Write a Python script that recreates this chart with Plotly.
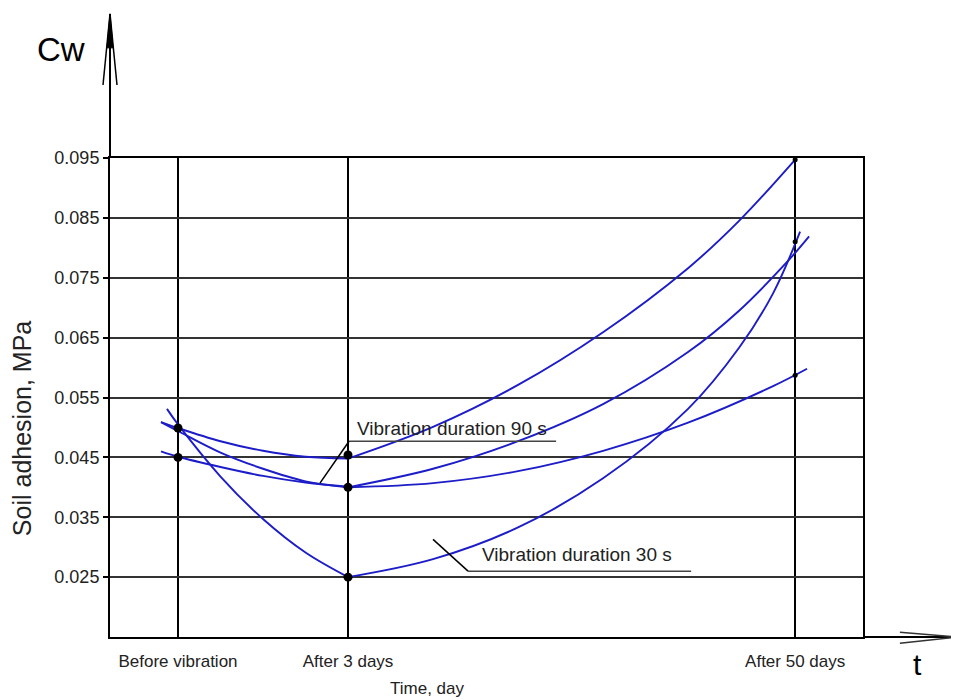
import plotly.graph_objects as go

# ---- data ----
categories = ["Before vibration", "After 3 days", "After 50 days"]
cat_pos = [0.0, 1.0, 3.63]          # position of each time point on the (non-linear) time axis

y_ticks = [0.025, 0.035, 0.045, 0.055, 0.065, 0.075, 0.085, 0.095]

# curve segments: before vibration -> after 3 days
seg1_left_x = [-0.10, 0.0, 0.25, 0.50, 0.75, 1.0]
seg1_left_y = [0.0509, 0.0499, 0.0477, 0.0461, 0.0451, 0.0448]
seg2_left_x = [-0.10, 0.0, 0.25, 0.50, 0.75, 1.0]
seg2_left_y = [0.0509, 0.0494, 0.0458, 0.0431, 0.0410, 0.0400]
seg3_left_x = [-0.10, 0.0, 0.25, 0.50, 0.75, 1.0]
seg3_left_y = [0.0460, 0.0451, 0.0434, 0.0419, 0.0408, 0.0401]
seg4_left_x = [-0.065, 0.0, 0.25, 0.50, 0.75, 1.0]
seg4_left_y = [0.0531, 0.0505, 0.0418, 0.0347, 0.0291, 0.0250]

# curve segments: after 3 days -> after 50 days
seg1_right_x = [1.0, 1.5, 2.0, 2.5, 3.0, 3.3, 3.629]
seg1_right_y = [0.0448, 0.0501, 0.0571, 0.0659, 0.0766, 0.0845, 0.0947]
seg2_right_x = [1.0, 1.5, 2.0, 2.5, 3.0, 3.3, 3.6, 3.712]
seg2_right_y = [0.0400, 0.0431, 0.0477, 0.0539, 0.0626, 0.0695, 0.0782, 0.0819]
seg3_right_x = [1.0, 1.5, 2.0, 2.5, 3.0, 3.5, 3.70]
seg3_right_y = [0.0400, 0.0407, 0.0427, 0.0461, 0.0508, 0.0569, 0.0598]
seg4_right_x = [1.0, 1.5, 2.0, 2.5, 3.0, 3.3, 3.5, 3.659]
seg4_right_y = [0.0250, 0.0280, 0.0333, 0.0415, 0.0531, 0.0633, 0.0724, 0.0827]

# measured points
dots_x = [0.0, 0.0, 1.0, 1.0, 1.0]
dots_y = [0.0499, 0.0450, 0.0454, 0.0400, 0.0250]
end_dots_x = [3.63, 3.63, 3.63]
end_dots_y = [0.0947, 0.0810, 0.0587]

label_90 = "Vibration duration 90 s"
label_30 = "Vibration duration 30 s"

# ---- figure ----
BLUE = "#1c1cc8"
FONT = "Liberation Sans, Arial, sans-serif"

fig = go.Figure()
segments = [
    (seg1_left_x, seg1_left_y), (seg2_left_x, seg2_left_y),
    (seg3_left_x, seg3_left_y), (seg4_left_x, seg4_left_y),
    (seg1_right_x, seg1_right_y), (seg2_right_x, seg2_right_y),
    (seg3_right_x, seg3_right_y), (seg4_right_x, seg4_right_y),
]
for sx, sy in segments:
    fig.add_trace(go.Scatter(x=sx, y=sy, mode="lines",
                             line=dict(color=BLUE, width=1.9, shape="spline", smoothing=1.0),
                             hoverinfo="skip"))

fig.add_trace(go.Scatter(x=dots_x, y=dots_y, mode="markers",
                         marker=dict(color="black", size=9)))
fig.add_trace(go.Scatter(x=end_dots_x, y=end_dots_y, mode="markers",
                         marker=dict(color="black", size=5)))

shapes = []
# extended bottom axis with arrow
shapes.append(dict(type="line", xref="paper", yref="paper", x0=1, x1=1.1262, y0=0, y1=0,
                   line=dict(color="black", width=2)))
shapes.append(dict(type="line", xref="paper", yref="paper", x0=1.049, x1=1.1262, y0=0.0098, y1=0,
                   line=dict(color="#333", width=1.5)))
shapes.append(dict(type="line", xref="paper", yref="paper", x0=1.049, x1=1.1262, y0=-0.0132, y1=0,
                   line=dict(color="#333", width=1.5)))
# extended left axis with arrow
shapes.append(dict(type="line", xref="paper", yref="paper", x0=0, x1=0, y0=1, y1=1.3008,
                   line=dict(color="black", width=2)))
shapes.append(dict(type="line", xref="paper", yref="paper", x0=-0.0093, x1=0, y0=1.1525, y1=1.3008,
                   line=dict(color="black", width=1.5)))
shapes.append(dict(type="line", xref="paper", yref="paper", x0=0.0093, x1=0, y0=1.1525, y1=1.3008,
                   line=dict(color="black", width=1.5)))
shapes.append(dict(type="path", xref="paper", yref="paper",
                   path="M -0.004,1.23 L 0,1.3008 L 0.004,1.23 Z",
                   fillcolor="black", line=dict(color="black", width=1)))
# leader lines of labels (data coordinates)
shapes.append(dict(type="line", xref="x", yref="y", x0=1.006, x1=2.224, y0=0.0477, y1=0.0477,
                   line=dict(color="#444", width=1.5)))
shapes.append(dict(type="line", xref="x", yref="y", x0=1.006, x1=0.835, y0=0.0477, y1=0.0407,
                   line=dict(color="black", width=1.5)))
shapes.append(dict(type="line", xref="x", yref="y", x0=1.706, x1=3.018, y0=0.0260, y1=0.0260,
                   line=dict(color="#444", width=1.5)))
shapes.append(dict(type="line", xref="x", yref="y", x0=1.706, x1=1.50, y0=0.0260, y1=0.0313,
                   line=dict(color="black", width=1.5)))

annotations = [
    dict(text=label_90, x=1.041, y=0.0499, xref="x", yref="y", xanchor="left", yanchor="middle",
         showarrow=False, font=dict(family=FONT, size=19, color="#222")),
    dict(text=label_30, x=1.776, y=0.0288, xref="x", yref="y", xanchor="left", yanchor="middle",
         showarrow=False, font=dict(family=FONT, size=19, color="#222")),
    dict(text="Cw", x=-0.0651, y=1.2256, xref="paper", yref="paper", xanchor="center", yanchor="middle",
         showarrow=False, font=dict(family=FONT, size=33, color="black")),
    dict(text="t", x=1.0724, y=-0.057, xref="paper", yref="paper", xanchor="center", yanchor="middle",
         showarrow=False, font=dict(family=FONT, size=30, color="black")),
    dict(text="Time, day", x=0.421, y=-0.107, xref="paper", yref="paper", xanchor="center", yanchor="middle",
         showarrow=False, font=dict(family=FONT, size=17, color="#222")),
    dict(text="Soil adhesion, MPa", x=-0.1169, y=0.436, xref="paper", yref="paper",
         xanchor="center", yanchor="middle", textangle=-90,
         showarrow=False, font=dict(family=FONT, size=25, color="#222")),
]

# the page adds an 8 px body margin; the figure is sized so the plot area lands where the reference has it
fig.update_layout(
    width=951, height=692,
    margin=dict(l=102, r=96, t=150, b=63),
    plot_bgcolor="white", paper_bgcolor="white",
    showlegend=False,
    shapes=shapes, annotations=annotations,
    xaxis=dict(range=[-0.4, 4.029], tickvals=cat_pos, ticktext=categories,
               showgrid=True, gridcolor="black", gridwidth=2,
               showline=True, linecolor="black", linewidth=2, mirror=True,
               zeroline=False, ticks="", ticklabelstandoff=8,
               tickfont=dict(family=FONT, size=17, color="#222")),
    yaxis=dict(range=[0.015, 0.095], tickvals=y_ticks, ticktext=[f"{v:.3f}" for v in y_ticks],
               showgrid=True, gridcolor="#333", gridwidth=2,
               showline=True, linecolor="black", linewidth=2, mirror=True,
               zeroline=False, ticks="outside", ticklen=5, tickwidth=2, tickcolor="black",
               tickfont=dict(family=FONT, size=18, color="#222")),
)

fig.write_html("out.html")
